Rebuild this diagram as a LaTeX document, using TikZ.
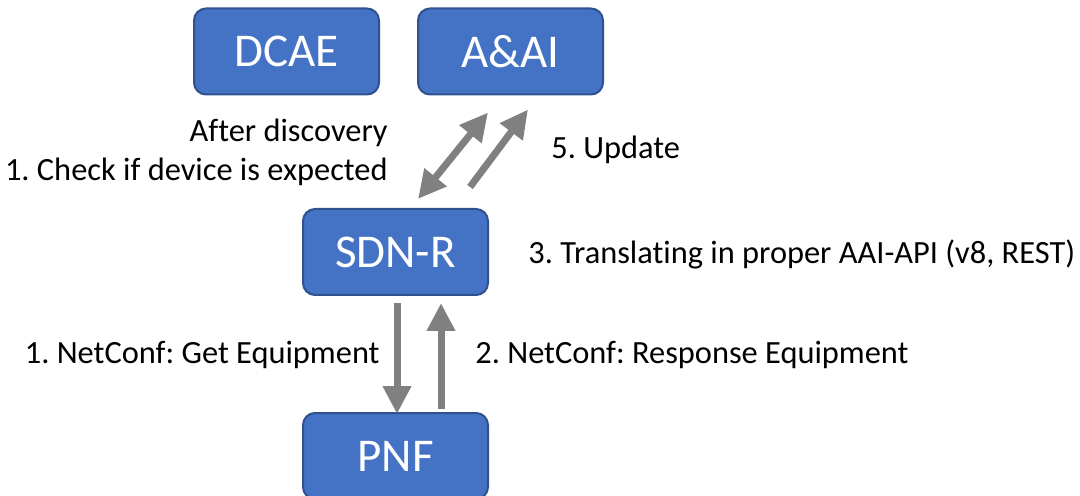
\documentclass[tikz,border=0pt]{standalone}
\usepackage{fontspec}
\setmainfont[Ligatures={NoCommon}]{Carlito}
\usetikzlibrary{positioning,arrows.meta,calc}
\definecolor{boxblue}{HTML}{4472C4}
\definecolor{boxedge}{HTML}{2F528F}
\definecolor{arrgray}{HTML}{808080}
\frenchspacing

\begin{document}
\begin{tikzpicture}[x=0.5pt, y=-0.5pt,
  blk/.style={draw=boxedge, line width=1pt, fill=boxblue, rounded corners=6pt,
    minimum width=92.5pt, minimum height=43pt, text=white, inner sep=0pt,
    font=\fontsize{23.5}{27}\selectfont},
  arr/.style={-{Triangle[length=14pt, width=13.5pt]}, line width=3.5pt, arrgray},
  lab/.style={font=\fontsize{16.2}{19}\selectfont, inner sep=0pt}]
\useasboundingbox (0,0) rectangle (1080,496);
% boxes
\node[blk] (dcae) at (286.5,51.5) {DCAE};
\node[blk] (aai) at (510.5,51.5) {A\&AI};
\node[blk] (sdnr) at (395.5,252) {SDN-R};
\node[blk] (pnf) at (395.5,456) {PNF};
% sdn-r <-> a&ai
\draw[arr, {Triangle[length=14pt, width=13.5pt]}-{Triangle[length=14pt, width=13.5pt]}]
  ([xshift=11.25pt, yshift=4.5pt]sdnr.north) -- ([xshift=-11.25pt, yshift=-8.5pt]aai.south);
\draw[arr] ([xshift=37.25pt, yshift=10.5pt]sdnr.north) -- ([xshift=8.75pt, yshift=-7pt]aai.south);
% sdn-r <-> pnf
\draw[arr] ([xshift=0.75pt, yshift=-3.5pt]sdnr.south) -- ([xshift=0.75pt, yshift=-1pt]pnf.north);
\draw[arr] ([xshift=22.75pt, yshift=1.5pt]pnf.north) -- ([xshift=22.75pt, yshift=-3.5pt]sdnr.south);
% labels
\node[lab, anchor=east] (disc) at (388,133) {After discovery};
\node[lab, anchor=east] (check) at (388,172) {1. Check if device is expected};
\node[lab, anchor=west] (upd) at (551,150) {5. Update};
\node[lab, anchor=west] (trans) at (528,254) {3. Translating in proper AAI-API (v8, REST)};
\node[lab, anchor=east] (get) at (380,355) {1. NetConf: Get Equipment};
\node[lab, anchor=west] (resp) at (475,355) {2. NetConf: Response Equipment};
\end{tikzpicture}
\end{document}
